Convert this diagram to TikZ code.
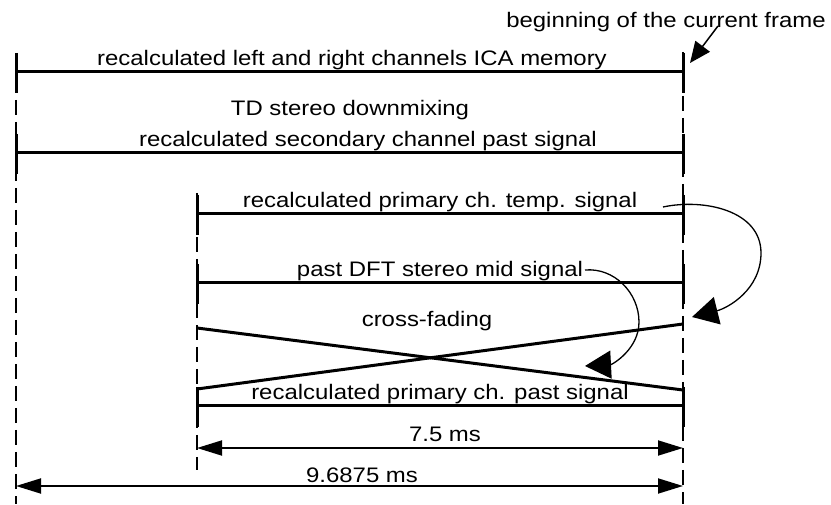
\documentclass[tikz,border=0pt]{standalone}
\usepackage{fontspec}
\setmainfont{Liberation Sans}
\usetikzlibrary{arrows.meta,calc,positioning}
\tikzset{
  lbl/.style={font=\fontsize{21}{25}\selectfont, inner sep=0pt, xscale=1.14, anchor=base},
  track/.style={line width=3pt},
  guide/.style={line width=2pt, dash pattern=on 15pt off 7pt},
  tickmark/.style={line width=3pt},
  span/.style={{Triangle[length=25pt,width=15pt]}-{Triangle[length=25pt,width=15pt]}, line width=1.8pt},
  bendarrow/.style={-{Triangle[length=26pt,width=28pt]}, line width=1.3pt},
  pointer/.style={-{Triangle[length=21pt,width=18pt]}, line width=1.5pt}
}

\begin{document}
\begin{tikzpicture}[x=1pt,y=1pt]
    \useasboundingbox (0,0) rectangle (831,504);
    \coordinate (Ltop) at (16,448);
    \coordinate (Lbot) at (16,0);
    \coordinate (Mtop) at (197,311);
    \coordinate (Mbot) at (197,34);
    \coordinate (Rtop) at (683,452);
    \coordinate (Rbot) at (683,0);
    \draw[guide] (Ltop)--(Lbot);
    \draw[guide] (Mtop)--(Mbot);
    \draw[guide] (Rtop)--(Rbot);

    \coordinate (icaL) at (16,432);  \coordinate (icaR) at (683,432);
    \coordinate (secL) at (16,351);  \coordinate (secR) at (683,351);
    \coordinate (tmpL) at (197,290); \coordinate (tmpR) at (683,290);
    \coordinate (dftL) at (197,221); \coordinate (dftR) at (683,221);
    \coordinate (pstL) at (197,98);  \coordinate (pstR) at (683,98);
    \coordinate (fadeA) at (197,176); \coordinate (fadeB) at (683,114);
    \coordinate (fadeC) at (197,115); \coordinate (fadeD) at (683,180);
    \foreach \a/\b in {icaL/icaR,secL/secR,tmpL/tmpR,dftL/dftR,pstL/pstR,fadeA/fadeB,fadeC/fadeD}
      \draw[track] (\a)--(\b);
    \foreach \c in {icaL,icaR,secL,secR,tmpL,tmpR,dftL,dftR,pstL,pstR}
      \draw[tickmark] ([yshift=19pt]\c)--([yshift=-21pt]\c);

    \node[lbl] (ica) at (352,438) {recalculated left and right channels ICA memory};
    \node[lbl] (td) at (350,388) {TD stereo downmixing};
    \node[lbl] (sec) at (368,357) {recalculated secondary channel past signal};
    \node[lbl] (tmp) at (440,296) {recalculated primary ch. temp. signal};
    \node[lbl] (dft) at (440,227) {past DFT stereo mid signal};
    \node[lbl] (fade) at (427,177) {cross-fading};
    \node[lbl] (pst) at (440,104) {recalculated primary ch. past signal};
    \node[lbl] (ms75) at (445,62) {7.5 ms};
    \node[lbl] (ms96) at (362,22) {9.6875 ms};
    \node[lbl] (frame) at (666,476) {beginning of the current frame};

    \coordinate (d1L) at (197,56); \coordinate (d1R) at (683,56);
    \coordinate (d2L) at (16,18);  \coordinate (d2R) at (683,18);
    \draw[span] (d1L)--(d1R);
    \draw[span] (d2L)--(d2R);

    \coordinate (tmpOut) at (663,297);
    \coordinate (tmpTurn) at (761,251);
    \coordinate (tmpIn) at (692,187);
    \draw[bendarrow] (tmpOut) to[out=12,in=90] (tmpTurn) to[out=-90,in=14] (tmpIn);
    \coordinate (dftOut) at (585,234);
    \coordinate (dftTurn) at (639,182);
    \coordinate (dftIn) at (585,138);
    \draw[bendarrow] (dftOut) to[out=5,in=90] (dftTurn) to[out=-90,in=3] (dftIn);
    \coordinate (frameOut) at (718,478);
    \coordinate (frameIn) at (690,441);
    \draw[pointer] (frameOut)--(frameIn);
  \end{tikzpicture}
\end{document}
